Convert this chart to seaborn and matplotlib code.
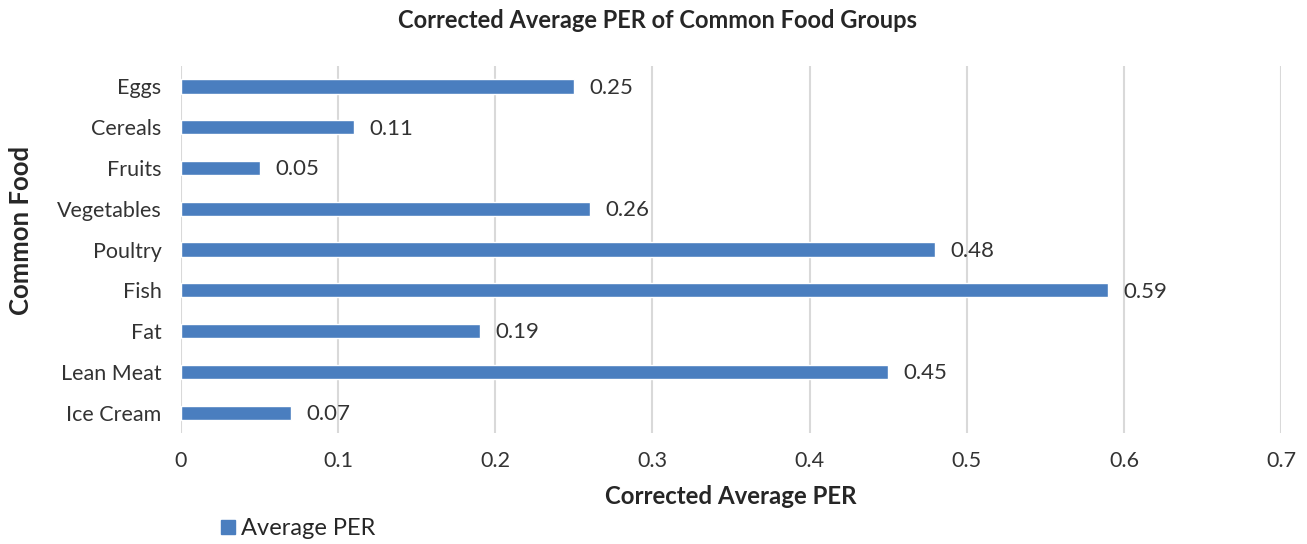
import matplotlib
matplotlib.use("Agg")
import matplotlib.pyplot as plt
import seaborn as sns
import pandas as pd
from matplotlib.lines import Line2D

foods = ["Eggs", "Cereals", "Fruits", "Vegetables", "Poultry", "Fish", "Fat", "Lean Meat", "Ice Cream"]
per_values = [0.25, 0.11, 0.05, 0.26, 0.48, 0.59, 0.19, 0.45, 0.07]
x_ticks = [0, 0.1, 0.2, 0.3, 0.4, 0.5, 0.6, 0.7]
x_tick_labels = ["0", "0.1", "0.2", "0.3", "0.4", "0.5", "0.6", "0.7"]

sns.set_theme(style="white")
plt.rcParams["font.family"] = ["Lato", "DejaVu Sans"]

bar_color = "#4A7EBF"
text_color = "#262626"
tick_color = "#333333"
grid_color = "#D9D9D9"

df = pd.DataFrame({"Food": foods, "PER": per_values})

fig = plt.figure(figsize=(13.07, 5.44), dpi=100)
ax = fig.add_axes([0.1385, 0.204, 0.8417, 0.6746])

sns.barplot(data=df, x="PER", y="Food", orient="h", color=bar_color,
            width=0.35, saturation=1, ax=ax, zorder=3)

ax.set_xlim(0, 0.7)
ax.set_ylim(len(foods) - 0.5, -0.5)
ax.set_xticks(x_ticks)
ax.set_xticklabels(x_tick_labels)
ax.xaxis.grid(True, color=grid_color, linewidth=1.5, zorder=0)
ax.yaxis.grid(False)
for s in ax.spines.values():
    s.set_visible(False)
ax.tick_params(axis="x", length=0, pad=13, labelsize=15.5, labelcolor=tick_color)
ax.tick_params(axis="y", length=0, pad=14, labelsize=15.5, labelcolor=tick_color)
ax.set_xlabel("")
ax.set_ylabel("")

for i, v in enumerate(per_values):
    ax.annotate(f"{v:g}", xy=(v, i), xytext=(11, -1), textcoords="offset points",
                va="center", ha="left", fontsize=16, color=tick_color)

fig.text(0.503, 0.963, "Corrected Average PER of Common Food Groups",
         ha="center", va="center", fontsize=17, fontweight="bold", color=text_color)
fig.text(0.559, 0.088, "Corrected Average PER",
         ha="center", va="center", fontsize=17.3, fontweight="bold", color=text_color)
fig.text(0.016, 0.577, "Common Food", rotation=90,
         ha="center", va="center", fontsize=18.5, fontweight="bold", color=text_color)

handle = Line2D([0], [0], marker="s", linestyle="none", markersize=10,
                markerfacecolor=bar_color, markeredgecolor=bar_color)
fig.legend([handle], ["Average PER"], loc="center left",
           bbox_to_anchor=(0.149, 0.028), frameon=False, fontsize=17,
           handletextpad=0.05, handlelength=1.0, labelcolor=text_color)

fig.savefig("out.png", dpi=100)
